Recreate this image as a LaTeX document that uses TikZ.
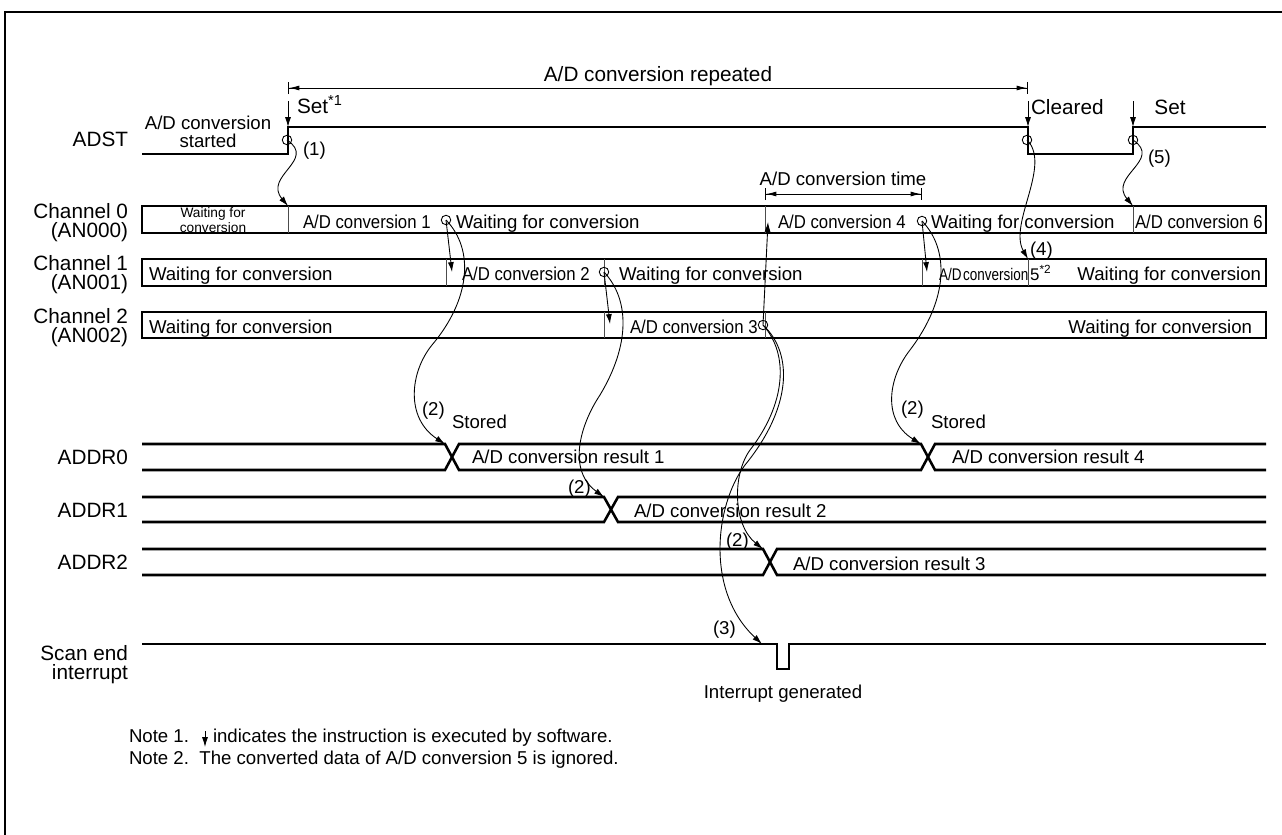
\documentclass[tikz,border=0pt]{standalone}
\usepackage{fontspec}
\setmainfont{Liberation Sans}
\newfontfamily\condfam[FakeStretch=0.9]{Liberation Sans}
\newfontfamily\narrowfam[FakeStretch=0.8]{Liberation Sans}
\newcommand\lblfont{\fontsize{11.8}{11.3}\selectfont}
\newcommand\txtfont{\fontsize{10.6}{10.2}\selectfont}
\newcommand\convfont{\condfam\fontsize{10.6}{10.2}\selectfont}
\newcommand\cellfont{\fontsize{7.8}{6.8}\selectfont}
\usetikzlibrary{arrows.meta}

\begin{document}
\begin{tikzpicture}[
  x=0.02cm, y=-0.02cm,
  every node/.style={inner sep=0pt, outer sep=0pt},
  sheet/.style={line width=1.6pt},
  wave/.style={line width=1.45pt, line join=miter},
  lane/.style={line width=1.5pt},
  divider/.style={line width=0.5pt, black!70},
  hint/.style={line width=0.5pt, -{Latex[length=5.6pt, width=3.4pt]}},
  ring/.style={circle, draw, line width=0.5pt, minimum size=5.4pt},
  dimline/.style={line width=0.5pt, {Bar[width=7pt]Latex[length=6pt, width=2.8pt]}-{Latex[length=6pt, width=2.8pt]Bar[width=7pt]}},
  rowlbl/.style={font=\lblfont, anchor=east, align=right},
  txt/.style={font=\txtfont, anchor=base west},
  conv/.style={font=\convfont, anchor=base west}
]
\useasboundingbox (0,0) rectangle (1282,835);
\draw[sheet] (5,835) -- (5,12) -- (1282,12);

\node[rowlbl, anchor=base east] (adst) at (128,146) {ADST};
\node[rowlbl] (lch0) at (128,222.6) {Channel 0\\(AN000)};
\node[rowlbl] (lch1) at (128,274.6) {Channel 1\\(AN001)};
\node[rowlbl] (lch2) at (128,327.6) {Channel 2\\(AN002)};
\node[rowlbl, anchor=base east] (laddr0) at (128,464) {ADDR0};
\node[rowlbl, anchor=base east] (laddr1) at (128,517) {ADDR1};
\node[rowlbl, anchor=base east] (laddr2) at (128,569) {ADDR2};
\node[rowlbl] (lscan) at (128,664.6) {Scan end\\interrupt};

\coordinate (rep1) at (288,88);
\coordinate (rep2) at (1028,88);
\draw[dimline] (rep1) -- (rep2);
\node[font=\lblfont, anchor=base] (repeated) at (658,81) {A/D conversion repeated};

\draw[wave] (142,154) -- (288,154) -- (288,127) -- (1028,127) -- (1028,154) -- (1133,154) -- (1133,127) -- (1266,127);
\coordinate (setA) at (288,127);
\coordinate (setAtop) at (288,101);
\coordinate (clr) at (1028,127);
\coordinate (clrtop) at (1028,101);
\coordinate (setB) at (1133,127);
\coordinate (setBtop) at (1133,101);
\draw[hint] (setAtop) -- (setA);
\draw[hint] (clrtop) -- (clr);
\draw[hint] (setBtop) -- (setB);
\node[font=\lblfont, anchor=base west] (set1) at (297,113) {Set\textsuperscript{*1}};
\node[font=\lblfont, anchor=base west] (cleared) at (1031,114) {Cleared};
\node[font=\lblfont, anchor=base] (set2) at (1170,114) {Set};
\node[font=\txtfont, align=center] (started) at (208,132) {A/D conversion\\started};
\node[ring] (r1) at (287,140) {};
\node[ring] (r4) at (1027,140) {};
\node[ring] (r5) at (1133,140) {};
\node[txt] (n1) at (303,155) {(1)};
\node[txt] (n5) at (1148,163) {(5)};

\coordinate (tm1) at (765,194);
\coordinate (tm2) at (922,194);
\draw[dimline] (tm1) -- (tm2);
\node[txt, anchor=base] (convtime) at (843,185) {A/D conversion time};

\draw[lane] (142,206) rectangle (1266,233);
\draw[lane] (142,259) rectangle (1266,286);
\draw[lane] (142,312) rectangle (1266,338);
\draw[divider] (288,206) -- (288,233);
\draw[divider] (765,206) -- (765,233);
\draw[divider] (1133,206) -- (1133,233);
\draw[divider] (446,259) -- (446,286);
\draw[divider] (604,259) -- (604,286);
\draw[divider] (922,259) -- (922,286);
\draw[divider] (1028,259) -- (1028,286);
\draw[divider] (604,312) -- (604,338);
\draw[divider] (765,312) -- (765,338);

\node[font=\cellfont, align=center] (w0a) at (213,220) {Waiting for\\conversion};
\node[conv] (ad1) at (303,228) {A/D conversion 1};
\node[txt] (w0b) at (456,228) {Waiting for conversion};
\node[conv] (ad4) at (778,228) {A/D conversion 4};
\node[txt] (w0c) at (931,228) {Waiting for conversion};
\node[conv] (ad6) at (1135,228) {A/D conversion 6};
\node[txt] (w1a) at (149,280) {Waiting for conversion};
\node[conv] (ad2) at (462,280) {A/D conversion 2};
\node[txt] (w1b) at (619,280) {Waiting for conversion};
\node[anchor=base west, font=\fontsize{9.6}{10}\selectfont] (ad5) at (939,280) {{\narrowfam\spaceskip=0.1em A/D conversion }5\textsuperscript{*2}};
\node[txt, anchor=base east] (w1c) at (1261,280) {Waiting for conversion};
\node[txt] (n4) at (1030,255) {(4)};
\node[txt] (w2a) at (149,333) {Waiting for conversion};
\node[conv] (ad3) at (630,333) {A/D conversion 3};
\node[txt, anchor=base east] (w2b) at (1252,333) {Waiting for conversion};

\node[ring] (e1) at (446,220) {};
\node[ring] (e2) at (604,272) {};
\node[ring] (e3) at (763,325) {};
\node[ring] (e4) at (922,221) {};

\coordinate (t1) at (288,206);
\coordinate (t4) at (1028,259);
\coordinate (t5) at (1133,206);
\coordinate (s2) at (452,272);
\coordinate (s3) at (610,324);
\coordinate (s4) at (768,222);
\coordinate (s5) at (927,272);
\draw[hint] (r1.center) .. controls +(30,20) and +(-25,-30) .. (t1);
\draw[hint] (r5.center) .. controls +(30,20) and +(-25,-30) .. (t5);
\draw[hint] (r4.center) .. controls +(25,25) and +(-20,-35) .. (t4);
\draw[hint] (e1.center) -- (s2);
\draw[hint] (e2.center) -- (s3);
\draw[hint] (e3.center) -- (s4);
\draw[hint] (e4.center) -- (s5);

\draw[wave] (142,444) -- (445,444) -- (459,470) -- (921,470) -- (935,444) -- (1266,444);
\draw[wave] (142,470) -- (445,470) -- (459,444) -- (921,444) -- (935,470) -- (1266,470);
\draw[wave] (142,497) -- (604,497) -- (618,522) -- (1266,522);
\draw[wave] (142,522) -- (604,522) -- (618,497) -- (1266,497);
\draw[wave] (142,549) -- (763,549) -- (777,575) -- (1266,575);
\draw[wave] (142,575) -- (763,575) -- (777,549) -- (1266,549);
\coordinate (x0a) at (445,444);
\coordinate (x0b) at (921,444);
\coordinate (x1) at (604,497);
\coordinate (x2) at (763,549);

\node[txt] (res1) at (472,463) {A/D conversion result 1};
\node[txt] (res4) at (952,463) {A/D conversion result 4};
\node[txt] (res2) at (634,517) {A/D conversion result 2};
\node[txt] (res3) at (793,570) {A/D conversion result 3};
\node[txt] (st1) at (452,428) {Stored};
\node[txt] (st4) at (931,428) {Stored};
\node[txt] (n2a) at (422,415) {(2)};
\node[txt] (n2d) at (901,414) {(2)};
\node[txt] (n2b) at (568,493) {(2)};
\node[txt] (n2c) at (726,546) {(2)};

\draw[wave] (142,644) -- (777,644) -- (777,669) -- (789,669) -- (789,644) -- (1266,644);
\coordinate (irq) at (762,644);
\node[txt] (n3) at (713,634) {(3)};
\node[txt, anchor=base] (gen) at (783,698) {Interrupt generated};

\draw[hint] (e1.center) .. controls +(29,30) and +(38,-45) .. (432,345) .. controls +(-22,27) and +(-40,-26) .. (x0a);
\draw[hint] (e2.center) .. controls +(26,28) and +(30,-50) .. (600,395) .. controls +(-20,30) and +(-37,-27) .. (x1);
\draw[hint] (e3.center) .. controls +(27,30) and +(35,-45) .. (750,450) .. controls +(-18,25) and +(-30,-24) .. (x2);
\draw[hint] (e4.center) .. controls +(28,29) and +(38,-50) .. (910,350) .. controls +(-22,28) and +(-39,-24) .. (x0b);
\draw[hint] (e3.center) .. controls +(32,30) and +(45,-55) .. (745,465) .. controls +(-30,40) and +(-57,-53) .. (irq);

\node[txt] (note1) at (129,742) {Note 1.};
\coordinate (swtop) at (205,731);
\coordinate (swbot) at (205,747);
\draw[hint] (swtop) -- (swbot);
\node[txt] (note1b) at (213,742) {indicates the instruction is executed by software.};
\node[txt] (note2) at (129,764) {Note 2.\ \ The converted data of A/D conversion 5 is ignored.};
\end{tikzpicture}
\end{document}
